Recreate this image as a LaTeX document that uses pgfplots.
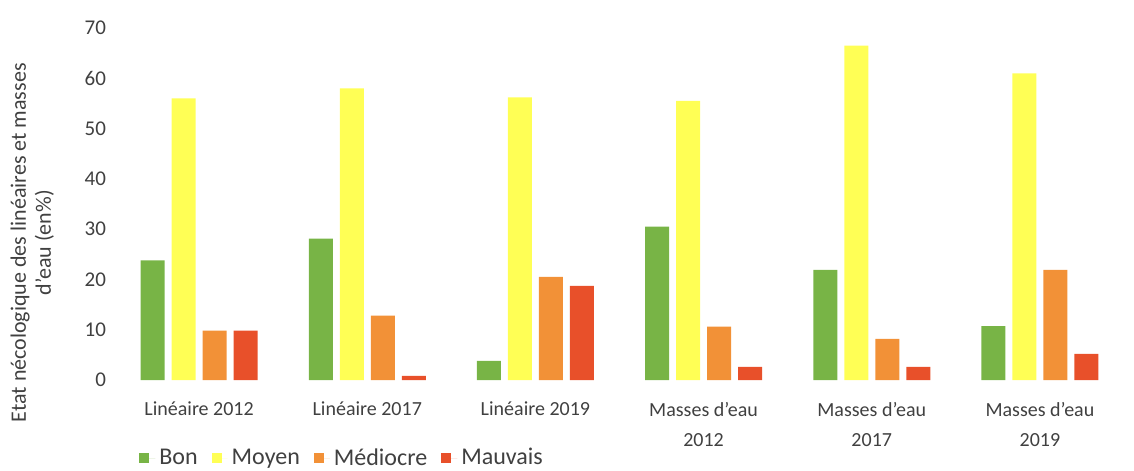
\documentclass[border=0pt]{standalone}
\usepackage{pgfplots}
\pgfplotsset{compat=1.18}
\usepackage{fontspec}
\setmainfont{Carlito}
\definecolor{cBon}{RGB}{120,180,70}
\definecolor{cMoyen}{RGB}{255,255,85}
\definecolor{cMed}{RGB}{242,145,55}
\definecolor{cMau}{RGB}{232,80,42}
\definecolor{txt}{RGB}{64,64,64}
\begin{document}
\begin{tikzpicture}
\begin{axis}[
  scale only axis,
  width=504.5pt, height=176pt,
  ymin=0, ymax=70, xmin=-0.5, xmax=5.5,
  enlarge y limits=false,
  ytick={0,10,...,70},
  xtick={0,1,2,3,4,5},
  xticklabels={Linéaire 2012, Linéaire 2017, Linéaire 2019, Masses d'eau\\2012, Masses d'eau\\2017, Masses d'eau\\2019},
  xticklabel style={align=center, font=\fontsize{10}{15}\selectfont, text=txt, yshift=-7.5pt},
  yticklabel style={font=\fontsize{10.5}{12}\selectfont, text=txt, xshift=-1pt},
  /pgf/number format/assume math mode=true,
  axis line style={draw=none},
  major tick length=0pt,
  ybar=3.5pt, bar width=12pt,
  every axis plot/.append style={draw=none},
  ylabel={Etat nécologique des linéaires et masses\\d'eau (en\%)},
  every axis y label/.style={at={(axis description cs:-0.082,0.39)}, rotate=90, anchor=center, align=center, font=\fontsize{11}{12.5}\selectfont, text=txt},
  legend columns=-1,
  legend style={draw=none, at={(axis description cs:0,0)}, anchor=north west, xshift=9pt, yshift=-30pt, font=\fontsize{12}{14}\selectfont, text=txt, /tikz/every even column/.append style={column sep=5pt}},
  legend image code/.code={\fill[#1] (0pt,-2.5pt) rectangle (5pt,2.5pt); \path (0pt,0pt) -- (8pt,0pt);},
]
\addplot[fill=cBon] coordinates {(0,23.8) (1,28.1) (2,3.8) (3,30.5) (4,21.9) (5,10.7)};
\addplot[fill=cMoyen] coordinates {(0,56) (1,58) (2,56.2) (3,55.5) (4,66.5) (5,61)};
\addplot[fill=cMed] coordinates {(0,9.8) (1,12.8) (2,20.5) (3,10.6) (4,8.2) (5,21.9)};
\addplot[fill=cMau] coordinates {(0,9.8) (1,0.8) (2,18.7) (3,2.6) (4,2.6) (5,5.2)};
\legend{Bon, Moyen, Médiocre, Mauvais}
\coordinate (SW) at (rel axis cs:0,0);
\coordinate (NE) at (rel axis cs:1,1);
\end{axis}
\pgfresetboundingbox
\path[use as bounding box] ([xshift=-57.5pt,yshift=-45pt]SW) rectangle ([xshift=5pt,yshift=14pt]NE);
\end{tikzpicture}
\end{document}
